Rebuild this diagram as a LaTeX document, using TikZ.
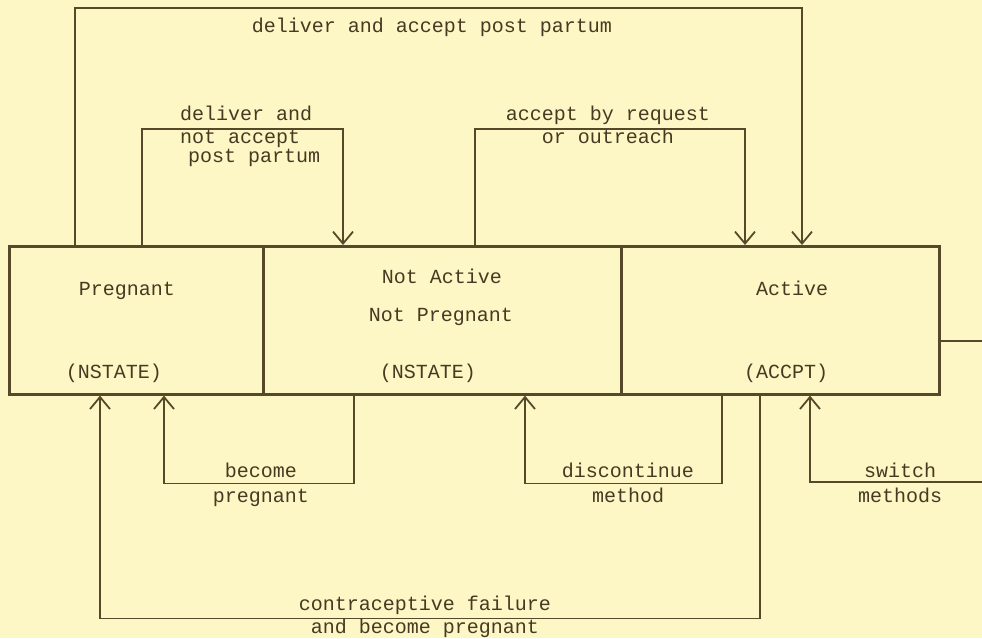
\documentclass[tikz,border=0pt]{standalone}
\usepackage{fontspec}
\newfontfamily\tw{Liberation Mono}
\usetikzlibrary{arrows.meta}
\definecolor{paper}{RGB}{252,247,196}
\definecolor{ink}{RGB}{88,72,42}
\definecolor{textink}{RGB}{72,58,34}
\tikzset{
  statebox/.style={draw=ink, line width=2.6pt, minimum width=#1, minimum height=148pt, anchor=north west, inner sep=0pt},
  conn/.style={draw=ink, line width=1.7pt, -{Straight Barb[length=12pt,width=20pt,line width=1.8pt]}},
  lbl/.style={text=textink, font=\tw\fontsize{20}{22}\selectfont, anchor=base, inner sep=0pt},
  lblw/.style={lbl, anchor=base west}
}
\begin{document}
\begin{tikzpicture}[x=1pt,y=-1pt]
\fill[paper] (0,0) rectangle (982,638);
\useasboundingbox (0,0) rectangle (982,638);

\node[statebox=254pt] (preg) at (8,245) {};
\node[statebox=358pt] (notact) at (262,245) {};
\node[statebox=318pt] (active) at (620,245) {};

% box texts
\node[lbl] (tpreg) at (127,295) {Pregnant};
\node[lbl] (tns1) at (114,378) {(NSTATE)};
\node[lbl] (tna1) at (442,283) {Not Active};
\node[lbl] (tna2) at (441,321) {Not Pregnant};
\node[lbl] (tns2) at (428,378) {(NSTATE)};
\node[lbl] (tact) at (792,295) {Active};
\node[lbl] (tacc) at (786,378) {(ACCPT)};

% connectors above
\draw[conn] ([xshift=67pt]preg.north west) -- ++(0,-237) -| ([xshift=182pt]active.north west);
\draw[conn] ([xshift=134pt]preg.north west) -- ++(0,-116) -| ([xshift=81pt]notact.north west);
\draw[conn] ([xshift=213pt]notact.north west) -- ++(0,-116) -| ([xshift=125pt]active.north west);

% connectors below
\draw[conn] ([xshift=92pt]notact.south west) -- ++(0,88) -| ([xshift=156pt]preg.south west);
\draw[conn] ([xshift=102pt]active.south west) -- ++(0,88) -| ([xshift=263pt]notact.south west);
\draw[conn] ([xshift=140pt]active.south west) -- ++(0,223) -| ([xshift=92pt]preg.south west);
\draw[conn] ([yshift=-21pt]active.east) -- ++(42,0) -- ++(0,141) -| ([xshift=190pt]active.south west);

% labels
\node[lbl] (l1) at (432,32) {deliver and accept post partum};
\node[lblw] (l2a) at (180,120) {deliver and};
\node[lblw] (l2b) at (180,143) {not accept};
\node[lblw] (l2c) at (188,162) {post partum};
\node[lbl] (l3a) at (608,120) {accept by request};
\node[lbl] (l3b) at (608,143) {or outreach};
\node[lbl] (l4a) at (261,477) {become};
\node[lbl] (l4b) at (261,502) {pregnant};
\node[lbl] (l5a) at (628,477) {discontinue};
\node[lbl] (l5b) at (628,502) {method};
\node[lbl] (l6a) at (900,477) {switch};
\node[lbl] (l6b) at (900,502) {methods};
\node[lbl] (l7a) at (425,610) {contraceptive failure};
\node[lbl] (l7b) at (425,633) {and become pregnant};
\end{tikzpicture}
\end{document}
